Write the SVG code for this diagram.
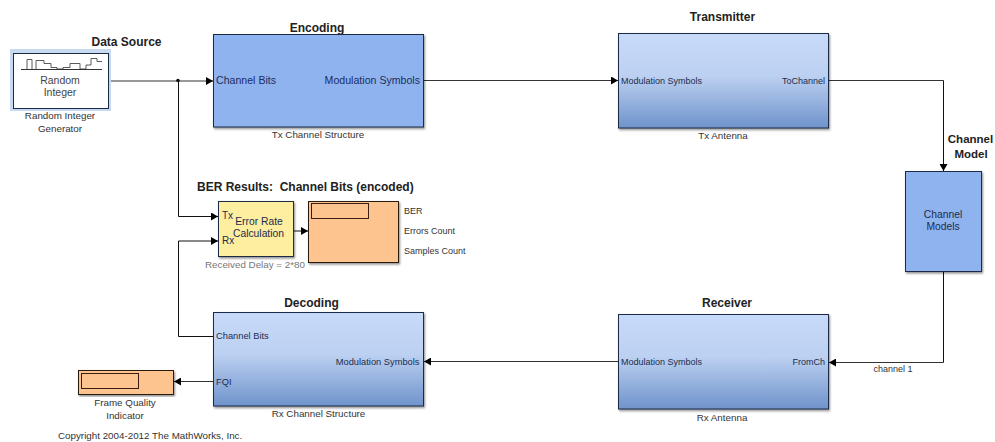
<svg xmlns="http://www.w3.org/2000/svg" width="995" height="442" viewBox="0 0 995 442">
<defs>
<linearGradient id="g" x1="0" y1="0" x2="0" y2="1"><stop offset="0" stop-color="#c8daf9"/><stop offset="0.45" stop-color="#bcd0f1"/><stop offset="1" stop-color="#6f93cb"/></linearGradient>
<filter id="s" x="-5%" y="-5%" width="112%" height="112%"><feDropShadow dx="1" dy="1.5" stdDeviation="1" flood-color="#000" flood-opacity="0.45"/></filter>
<marker id="a" markerUnits="userSpaceOnUse" markerWidth="8" markerHeight="8" refX="7" refY="4" orient="auto"><path d="M0 0L7 4L0 8Z" fill="#000"/></marker>
</defs>
<style>
text{font-family:"Liberation Sans",Arial,sans-serif;fill:#2a2a2a}
.box{stroke:#1d2a44;stroke-width:1;filter:url(#s)}
.blue{fill:#8fb3ef}.grad{fill:url(#g)}.org{fill:#fdc48f;stroke:#2a1c10}.inner{fill:#fdc48f;stroke:#3a1c10;stroke-width:1}
.t{font-size:12px;font-weight:bold;fill:#222}
.l{font-size:9px;fill:#1c2c4c}
.lg{font-size:10.600px;fill:#1c2c5c}
.ld{font-size:9.300px;fill:#1c2c4c}
.mid{font-size:10.300px;fill:#1c2c4c}
.c{font-size:9px;fill:#333}
.cl{font-size:9.800px;fill:#333}
.m{text-anchor:middle}.e{text-anchor:end}
.w{fill:none;stroke:#333;stroke-width:1.2}
.k{fill:none;stroke:#111;stroke-width:1}
</style>
<g id="connectors">
<path class="w" d="M108.500 81H213" marker-end="url(#a)"/>
<circle cx="178" cy="80.500" r="1.800" fill="#111"/>
<path class="k" d="M178.500 81V216.500H218" marker-end="url(#a)"/>
<path class="k" d="M213 336.500H178.500V241H218" marker-end="url(#a)"/>
<path class="k" d="M294 231H308" marker-end="url(#a)"/>
<path class="w" d="M423.500 80.500H618" marker-end="url(#a)"/>
<path class="w" d="M828.500 80.500H943.500"/>
<path class="k" d="M943.500 80.500V171" marker-end="url(#a)"/>
<path class="k" d="M943.500 271V362.500"/>
<path class="w" d="M943.500 362.500H829" marker-end="url(#a)"/>
<path class="w" d="M618 361.500H424" marker-end="url(#a)"/>
<path class="w" d="M213 381.500H174" marker-end="url(#a)"/>
</g>
<g id="data-source">
<text class="t m" x="126.500" y="46">Data Source</text>
<rect x="10" y="49" width="101" height="62" fill="#c7daf2"/>
<rect x="13.500" y="53.500" width="95" height="55" fill="#fff" stroke="#1d2a44" stroke-width="1"/>
<path d="M21 69.500H102" stroke="#333" fill="none"/>
<path d="M27 69V59.500H32V69M36 69V60.500H44V63.500H51V67.500H57V69H63V67.500H70V63.500H80V69H86V65H91V58.500H97V61.500H102" fill="none" stroke="#333" stroke-width="0.800"/>
<text class="m" x="60" y="84" style="font-size:10.500px;fill:#444">Random</text>
<text class="m" x="60" y="96" style="font-size:10.500px;fill:#444">Integer</text>
<text class="cl m" x="60" y="119">Random Integer</text>
<text class="cl m" x="60" y="132">Generator</text>
</g>
<g id="encoding">
<text class="t m" x="317" y="31.500">Encoding</text>
<rect class="box blue" x="213.500" y="34.500" width="210" height="92.500"/>
<text class="lg" x="216" y="84">Channel Bits</text>
<text class="lg e" x="420" y="84">Modulation Symbols</text>
<text class="cl m" x="318" y="138">Tx Channel Structure</text>
</g>
<g id="transmitter">
<text class="t m" x="722.500" y="21">Transmitter</text>
<rect class="box grad" x="618.500" y="33.500" width="210" height="94.500"/>
<text class="l" x="621" y="84">Modulation Symbols</text>
<text class="l e" x="825" y="84">ToChannel</text>
<text class="cl m" x="723" y="139">Tx Antenna</text>
</g>
<g id="channel-model">
<text class="t m" x="970.500" y="142.500" style="font-size:11.500px">Channel</text>
<text class="t m" x="971" y="158" style="font-size:11.500px">Model</text>
<rect class="box blue" x="905.500" y="171.500" width="76" height="100"/>
<text class="mid m" x="943" y="217.500">Channel</text>
<text class="mid m" x="943" y="230">Models</text>
</g>
<g id="ber-title"><text class="t" x="197" y="190.500" xml:space="preserve">BER Results:  Channel Bits (encoded)</text></g>
<g id="error-rate">
<rect class="box" x="218.500" y="201.500" width="75" height="55" fill="#fdeea0"/>
<text class="l" x="222" y="219" style="font-size:10px">Tx</text>
<text class="l" x="222" y="244" style="font-size:10px">Rx</text>
<text class="mid m" x="259" y="225">Error Rate</text>
<text class="mid m" x="258.500" y="237">Calculation</text>
<text class="cl" x="205" y="267.500" style="fill:#777">Received Delay = 2*80</text>
</g>
<g id="ber-display">
<rect class="box org" x="308.500" y="201.500" width="90" height="61"/>
<rect class="inner" x="311.500" y="203.500" width="57" height="15"/>
<text class="c" x="404" y="214">BER</text>
<text class="c" x="404" y="234">Errors Count</text>
<text class="c" x="404" y="254">Samples Count</text>
</g>
<g id="decoding">
<text class="t m" x="311.500" y="307">Decoding</text>
<rect class="box grad" x="213.500" y="312.500" width="210" height="93.500"/>
<text class="ld" x="216" y="339">Channel Bits</text>
<text class="ld e" x="419.500" y="364.500">Modulation Symbols</text>
<text class="ld" x="216" y="384.500">FQI</text>
<text class="cl m" x="318.500" y="417">Rx Channel Structure</text>
</g>
<g id="receiver">
<text class="t m" x="727" y="307">Receiver</text>
<rect class="box grad" x="618.500" y="314.500" width="210" height="94.500"/>
<text class="l" x="621" y="365">Modulation Symbols</text>
<text class="l e" x="825" y="365">FromCh</text>
<text class="cl m" x="722" y="421">Rx Antenna</text>
<text class="c m" x="893" y="372">channel 1</text>
</g>
<g id="frame-quality">
<rect class="box org" x="78.500" y="370.500" width="95" height="24"/>
<rect class="inner" x="81.500" y="373.500" width="57" height="15"/>
<text class="cl m" x="125" y="406">Frame Quality</text>
<text class="cl m" x="125" y="419">Indicator</text>
</g>
<g id="copyright"><text class="cl" x="58" y="439">Copyright 2004-2012 The MathWorks, Inc.</text></g>
</svg>
